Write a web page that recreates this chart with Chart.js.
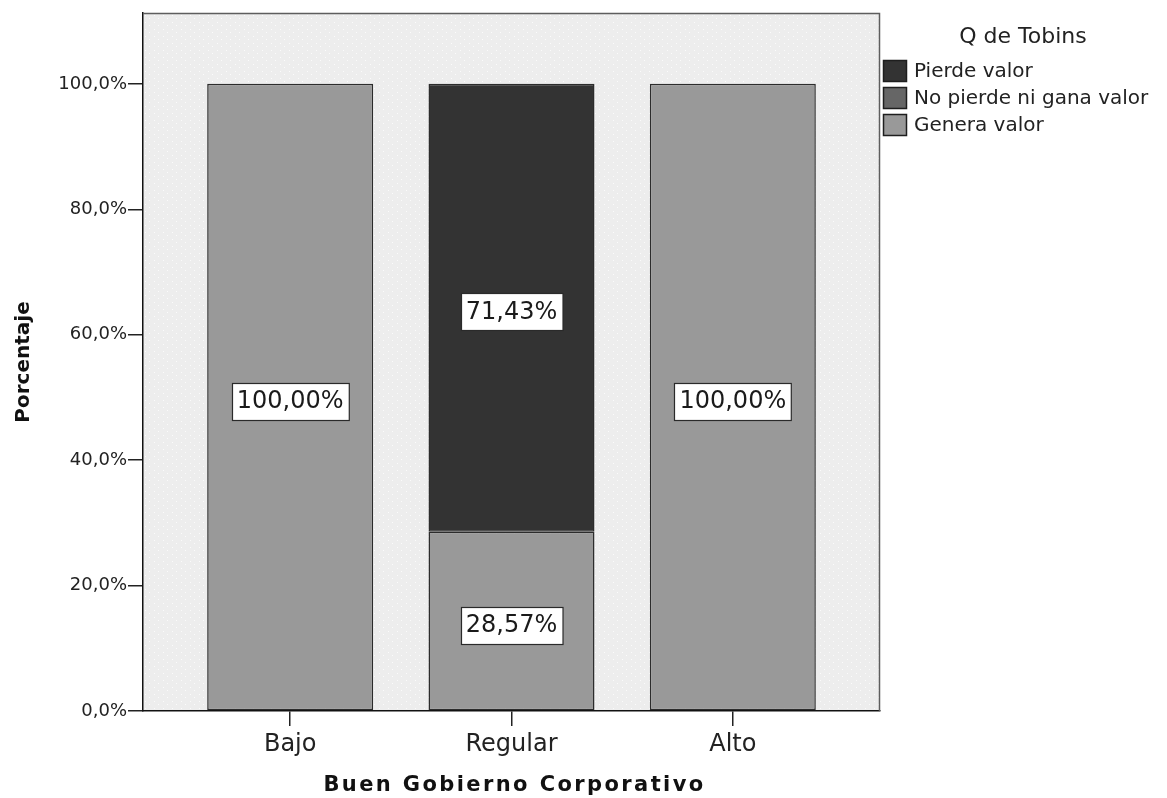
<!DOCTYPE html>
<html>
<head>
<meta charset="utf-8">
<script src="https://cdn.jsdelivr.net/npm/chart.js@4"></script>
<style>
  html, body { margin: 0; padding: 0; background: #ffffff; }
  #wrap { width: 1167px; height: 798px; }
</style>
</head>
<body>
<div id="wrap"><canvas id="chart" width="1167" height="798"></canvas></div>
<script>
// Categories of corporate governance
const categories = ['Bajo', 'Regular', 'Alto'];

// Percentages per category, stacked from the bottom
const generaValor = [100, 28.57, 100];
const noPierdeNiGana = [0, 0, 0];
const pierdeValor = [0, 71.43, 0];

// Series names (bottom to top of the stack)
const seriesNames = ['Genera valor', 'No pierde ni gana valor', 'Pierde valor'];
const seriesColors = ['#999999', '#666666', '#333333'];

// Axis ticks and titles
const yTicks = [0, 20, 40, 60, 80, 100];
const yMax = 111.3;
const yTitle = 'Porcentaje';
const xTitle = 'Buen Gobierno Corporativo';
const legendTitle = 'Q de Tobins';

const FONT = "'DejaVu Sans', 'Liberation Sans', Arial, sans-serif";

const fmtTick = v => v.toFixed(1).replace('.', ',') + '%';
const fmtLabel = v => v.toFixed(2).replace('.', ',') + '%';

// Category positions on a numeric x axis, with wide outer margins
const categoryPositions = categories.map((_, i) => i);
const xMin = -0.665;
const xMax = categories.length - 1 + 0.665;

// Dotted light-grey fill for the plot area
function makePattern(ctx) {
  const c = document.createElement('canvas');
  c.width = 9; c.height = 7;
  const p = c.getContext('2d');
  p.fillStyle = '#ededed';
  p.fillRect(0, 0, 9, 7);
  p.fillStyle = '#fbfbfb';
  p.fillRect(1, 1, 1, 1);
  p.fillRect(5, 4, 1, 1);
  return ctx.createPattern(c, 'repeat');
}

const plotBackground = {
  id: 'plotBackground',
  beforeDraw(chart) {
    const { ctx, chartArea: a } = chart;
    ctx.save();
    ctx.fillStyle = makePattern(ctx);
    ctx.fillRect(a.left, a.top, a.right - a.left, a.bottom - a.top);
    ctx.restore();
  },
  afterDatasetsDraw(chart) {
    // top and right frame lines
    const { ctx, chartArea: a } = chart;
    ctx.save();
    ctx.strokeStyle = '#5e5e5e';
    ctx.lineWidth = 1.5;
    ctx.beginPath();
    ctx.moveTo(a.left, a.top + 0.5);
    ctx.lineTo(a.right - 0.5, a.top + 0.5);
    ctx.lineTo(a.right - 0.5, a.bottom);
    ctx.stroke();
    ctx.restore();
  }
};

// Boxed percentage labels in the middle of each segment
const segmentLabels = {
  id: 'segmentLabels',
  afterDatasetsDraw(chart) {
    const { ctx } = chart;
    ctx.save();
    ctx.font = '24px ' + FONT;
    ctx.textAlign = 'center';
    ctx.textBaseline = 'middle';
    chart.data.datasets.forEach((ds, i) => {
      const meta = chart.getDatasetMeta(i);
      meta.data.forEach((bar, j) => {
        const v = ds.data[j];
        if (!v) return;
        const text = fmtLabel(v);
        const cx = bar.x;
        const cy = (bar.y + bar.base) / 2 + 4;
        const w = ctx.measureText(text).width + 10;
        const h = 37;
        const x0 = Math.round(cx - w / 2) + 0.5;
        const y0 = Math.round(cy - h / 2) + 0.5;
        ctx.fillStyle = '#ffffff';
        ctx.fillRect(x0, y0, w, h);
        ctx.strokeStyle = '#2a2a2a';
        ctx.lineWidth = 1.2;
        ctx.strokeRect(x0, y0, w, h);
        ctx.fillStyle = '#1a1a1a';
        ctx.fillText(text, cx, cy + 1);
      });
    });
    ctx.restore();
  }
};

// Legend with title at the right, plus the letter-spaced x-axis title
const sideLegend = {
  id: 'sideLegend',
  afterDraw(chart) {
    const { ctx, chartArea: a } = chart;
    ctx.save();
    ctx.fillStyle = '#222222';
    ctx.textBaseline = 'middle';
    ctx.textAlign = 'center';
    ctx.font = '22px ' + FONT;
    ctx.fillText(legendTitle, 1023, 37);

    ctx.textAlign = 'left';
    ctx.font = '20px ' + FONT;
    const ds = chart.data.datasets;
    let y = 71;
    for (let i = ds.length - 1; i >= 0; i--) {
      ctx.fillStyle = ds[i].backgroundColor;
      ctx.fillRect(883.5, y - 10.5, 23, 21);
      ctx.strokeStyle = '#1e1e1e';
      ctx.lineWidth = 1.5;
      ctx.strokeRect(883.5, y - 10.5, 23, 21);
      ctx.fillStyle = '#222222';
      ctx.fillText(ds[i].label, 914, y + 1);
      y += 27;
    }

    // x-axis title
    ctx.font = 'bold 21px ' + FONT;
    ctx.textAlign = 'center';
    ctx.fillStyle = '#111111';
    if ('letterSpacing' in ctx) ctx.letterSpacing = '2.4px';
    ctx.fillText(xTitle, (a.left + a.right) / 2 + 3, 786);
    ctx.restore();
  }
};

const seriesData = [generaValor, noPierdeNiGana, pierdeValor];

new Chart(document.getElementById('chart'), {
  type: 'bar',
  data: {
    labels: categoryPositions,
    datasets: seriesData.map((d, i) => ({
      label: seriesNames[i],
      data: d,
      backgroundColor: seriesColors[i],
      borderColor: '#2c2c2c',
      // empty segments get no outline
      borderWidth: c => (c.raw ? 1.5 : 0),
      borderSkipped: false,
      barPercentage: 0.75,
      categoryPercentage: 1.0
    }))
  },
  options: {
    responsive: false,
    animation: false,
    devicePixelRatio: 1,
    layout: { padding: { left: 0, right: 287, top: 13, bottom: 0 } },
    plugins: {
      legend: { display: false },
      tooltip: { enabled: false },
      title: { display: false }
    },
    scales: {
      x: {
        type: 'linear',
        stacked: true,
        min: xMin,
        max: xMax,
        offset: false,
        grid: {
          display: true,
          offset: false,
          drawOnChartArea: false,
          drawTicks: true,
          tickLength: 15,
          color: '#222222',
          lineWidth: 1.5
        },
        border: { display: true, color: '#111111', width: 1.5 },
        afterBuildTicks(scale) { scale.ticks = categoryPositions.map(v => ({ value: v })); },
        ticks: {
          color: '#222222',
          padding: 4,
          font: { family: FONT, size: 24 },
          maxRotation: 0,
          callback: v => categories[v]
        },
        title: { display: false, text: xTitle },
        afterFit(scale) { scale.height = 87; }
      },
      y: {
        stacked: true,
        min: 0,
        max: yMax,
        grid: {
          display: true,
          drawOnChartArea: false,
          drawTicks: true,
          tickLength: 15,
          color: '#222222',
          lineWidth: 1.5
        },
        border: { display: true, color: '#111111', width: 1.5 },
        afterBuildTicks(scale) { scale.ticks = yTicks.map(v => ({ value: v })); },
        ticks: {
          color: '#222222',
          padding: 1,
          font: { family: FONT, size: 18 },
          callback: v => fmtTick(v)
        },
        title: {
          display: true,
          text: yTitle,
          color: '#111111',
          font: { family: FONT, size: 20, weight: 'bold' },
          padding: { top: 12, bottom: 0 }
        },
        afterFit(scale) { scale.width = 143; }
      }
    }
  },
  plugins: [plotBackground, segmentLabels, sideLegend]
});
</script>
</body>
</html>
